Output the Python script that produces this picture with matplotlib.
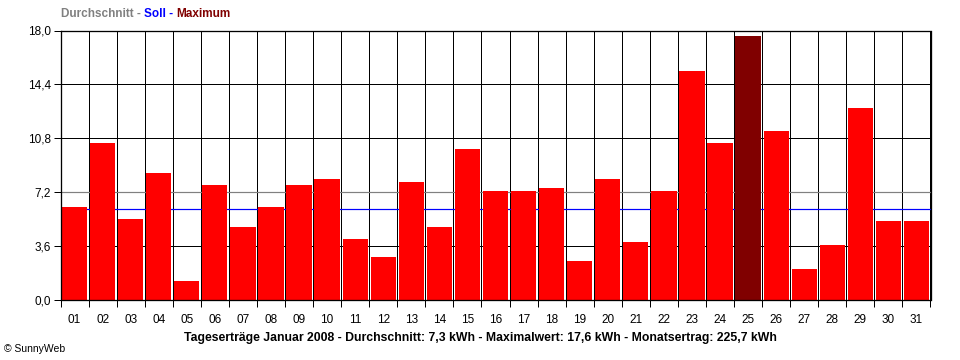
import matplotlib
matplotlib.use("Agg")
import matplotlib.pyplot as plt
import numpy as np

days = ["01", "02", "03", "04", "05", "06", "07", "08", "09", "10",
        "11", "12", "13", "14", "15", "16", "17", "18", "19", "20",
        "21", "22", "23", "24", "25", "26", "27", "28", "29", "30", "31"]
yields = [6.2, 10.5, 5.4, 8.5, 1.3, 7.7, 4.9, 6.2, 7.7, 8.1,
          4.1, 2.9, 7.9, 4.9, 10.1, 7.3, 7.3, 7.5, 2.6, 8.1,
          3.9, 7.3, 15.3, 10.5, 17.6, 11.3, 2.1, 3.7, 12.8, 5.3, 5.3]
avg_line = 7.2
soll_line = 6.05
y_ticks = [0.0, 3.6, 7.2, 10.8, 14.4, 18.0]
y_tick_labels = ["0,0", "3,6", "7,2", "10,8", "14,4", "18,0"]
bottom_title = ("Tageserträge Januar 2008 - Durchschnitt: 7,3 kWh - "
                "Maximalwert: 17,6 kWh - Monatsertrag: 225,7 kWh")

plt.rcParams['font.family'] = ['Liberation Sans', 'DejaVu Sans']
lw = 72 / 100

fig = plt.figure(figsize=(9.6, 3.6), dpi=100)
ax = fig.add_axes([60.5 / 960, 1 - 300 / 360, (930.5 - 60.5) / 960, (300 - 30.5) / 360])

n = len(yields)
x = np.arange(n)
imax = int(np.argmax(yields))
colors = ["#FF0000"] * n
colors[imax] = "#800000"

ax.set_xlim(-0.5, n - 0.5)
ax.set_ylim(0, 18)

# grid lines
for yt in y_ticks[1:-1]:
    if abs(yt - avg_line) > 1e-6:
        ax.axhline(yt, color="black", lw=lw, zorder=1)
for b in np.arange(n + 1) - 0.5:
    ax.axvline(b, color="black", lw=lw, zorder=1)
ax.axhline(avg_line, color="#808080", lw=lw * 1.2, zorder=1.5)
ax.axhline(soll_line, color="#0000FF", lw=lw * 1.2, zorder=1.5)

ax.bar(x, yields, width=0.9, color=colors, zorder=2, linewidth=0)

for s in ax.spines.values():
    s.set_color("black")
    s.set_linewidth(lw * 1.3)
    s.set_zorder(3)

ax.set_yticks(y_ticks)
ax.set_yticklabels(y_tick_labels)
ax.set_xticks(np.arange(n + 1) - 0.5, minor=False)
ax.set_xticklabels([])
ax.set_xticks(x, minor=True)
ax.set_xticklabels(days, minor=True)
ax.tick_params(axis="x", which="major", length=5, width=lw, direction="out", color="black")
ax.tick_params(axis="x", which="minor", length=0, pad=10, labelsize=8.5)
ax.tick_params(axis="y", length=5, width=lw, direction="out", pad=2, labelsize=8.5)

# header legend text
t1 = fig.text(61 / 960, 1 - 17 / 360, "Durchschnitt - ", color="#808080",
              fontweight="bold", fontsize=8.5, va="baseline", ha="left")
fig.canvas.draw()
r = fig.canvas.get_renderer()
bb = t1.get_window_extent(r)
t2 = fig.text(bb.x1 / 960, 1 - 17 / 360, "Soll - ", color="#0000FF",
              fontweight="bold", fontsize=8.5, va="baseline", ha="left")
bb2 = t2.get_window_extent(r)
fig.text(bb2.x1 / 960, 1 - 17 / 360, "Maximum", color="#800000",
         fontweight="bold", fontsize=8.5, va="baseline", ha="left")

fig.text(0.5, 1 - 341 / 360, bottom_title, color="black", fontweight="bold",
         fontsize=8.8, ha="center", va="baseline")
fig.text(4 / 960, 1 - 352 / 360, "© SunnyWeb", color="black", fontsize=7.5,
         ha="left", va="baseline")

fig.savefig("out.png", dpi=100, facecolor="white")
